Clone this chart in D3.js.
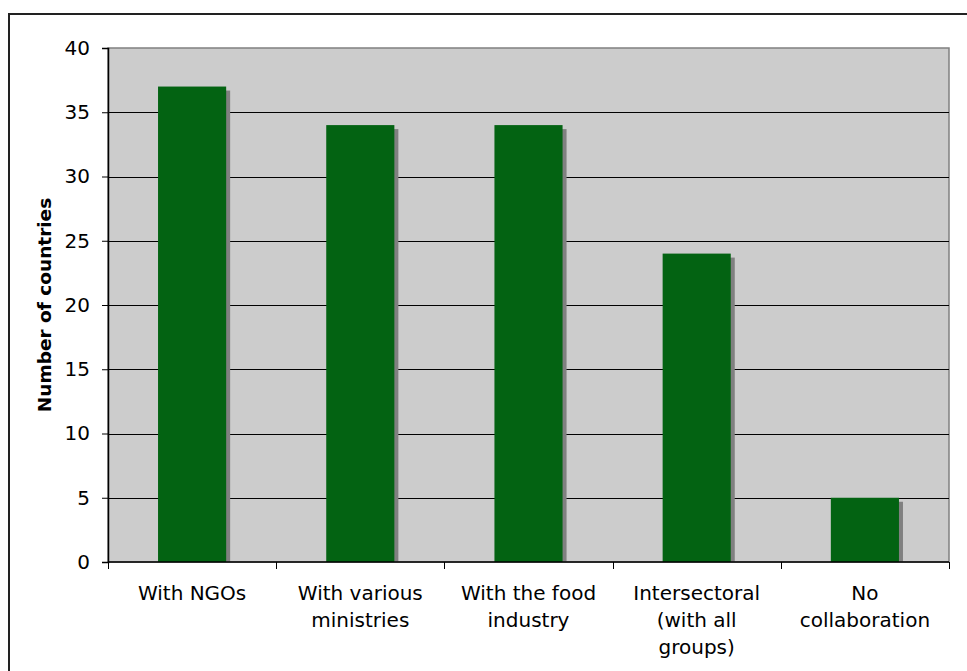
<!DOCTYPE html>
<html>
<head>
<meta charset="utf-8">
<script src="https://cdn.jsdelivr.net/npm/d3@7"></script>
<style>
body { margin: 0; background: #fff; }
svg { display: block; font-family: "DejaVu Sans", Verdana, sans-serif; }
</style>
</head>
<body>
<script>
// values
const categories = [
	["With NGOs"],
	["With various", "ministries"],
	["With the food", "industry"],
	["Intersectoral", "(with all", "groups)"],
	["No", "collaboration"]
];
const counts = [37, 34, 34, 24, 5];
const yTicks = [0, 5, 10, 15, 20, 25, 30, 35, 40];

const width = 967,
	height = 671;

const plot = {left: 108, top: 48, right: 949, bottom: 562};

let svg = d3.select("body")
	.append("svg")
	.attr("width", width)
	.attr("height", height);

// outer frame, runs off the right and bottom edge
svg.append("rect")
	.attr("x", 9)
	.attr("y", 14)
	.attr("width", 1000)
	.attr("height", 700)
	.attr("fill", "none")
	.attr("stroke", "#222")
	.attr("stroke-width", 2);

let x = d3.scaleBand()
	.domain(d3.range(categories.length))
	.range([plot.left, plot.right])
	.paddingInner(0.595)
	.paddingOuter(0.2975);

let y = d3.scaleLinear()
	.domain([0, 40])
	.range([plot.bottom, plot.top]);

// plot area
svg.append("rect")
	.attr("x", plot.left)
	.attr("y", plot.top)
	.attr("width", plot.right - plot.left)
	.attr("height", plot.bottom - plot.top)
	.attr("fill", "#cccccc")
	.attr("stroke", "#808080")
	.attr("stroke-width", 1.5);

// gridlines
svg.append("g")
	.selectAll("line")
	.data(yTicks.filter(d => d > 0 && d < 40))
	.join("line")
	.attr("x1", plot.left)
	.attr("x2", plot.right)
	.attr("y1", d => Math.round(y(d)) + 0.5)
	.attr("y2", d => Math.round(y(d)) + 0.5)
	.attr("stroke", "#000")
	.attr("stroke-width", 1);

// bar shadows
svg.append("g")
	.selectAll("rect")
	.data(counts)
	.join("rect")
	.attr("x", (d, i) => x(i) + 4)
	.attr("y", d => y(d) + 4)
	.attr("width", x.bandwidth())
	.attr("height", d => plot.bottom - y(d) - 4)
	.attr("fill", "#808080");

// bars
svg.append("g")
	.selectAll("rect")
	.data(counts)
	.join("rect")
	.attr("x", (d, i) => x(i))
	.attr("y", d => y(d))
	.attr("width", x.bandwidth())
	.attr("height", d => plot.bottom - y(d))
	.attr("fill", "#036312");

// y axis
let yAxis = svg.append("g")
	.attr("transform", `translate(${plot.left},0)`)
	.call(d3.axisLeft(y).tickValues(yTicks).tickSize(6).tickPadding(12));
yAxis.select(".domain").attr("stroke", "#000").attr("stroke-width", 1.5);
yAxis.selectAll(".tick line").attr("stroke", "#000");
yAxis.selectAll("text")
	.attr("font-size", 20)
	.attr("font-family", "DejaVu Sans")
	.attr("fill", "#000");

// x axis: ticks on the category boundaries
let step = x.step();
let xBounds = d3.range(categories.length + 1).map(i => plot.left + i*step);
svg.append("line")
	.attr("x1", plot.left)
	.attr("x2", plot.right)
	.attr("y1", plot.bottom)
	.attr("y2", plot.bottom)
	.attr("stroke", "#000")
	.attr("stroke-width", 1.5);
svg.append("g")
	.selectAll("line")
	.data(xBounds)
	.join("line")
	.attr("x1", d => Math.round(d) + 0.5)
	.attr("x2", d => Math.round(d) + 0.5)
	.attr("y1", plot.bottom)
	.attr("y2", plot.bottom + 7)
	.attr("stroke", "#000");

// category labels
let labels = svg.append("g")
	.selectAll("text")
	.data(categories)
	.join("text")
	.attr("x", (d, i) => x(i) + x.bandwidth()/2)
	.attr("y", 600)
	.attr("text-anchor", "middle")
	.attr("font-size", 20)
	.attr("fill", "#000");
labels.selectAll("tspan")
	.data(d => d)
	.join("tspan")
	.attr("x", function() { return this.parentNode.getAttribute("x"); })
	.attr("dy", (d, i) => i == 0 ? 0 : 27)
	.text(d => d);

// axis title
svg.append("text")
	.attr("transform", `translate(51,${(plot.top + plot.bottom)/2}) rotate(-90)`)
	.attr("text-anchor", "middle")
	.attr("font-size", 18.5)
	.attr("font-weight", "bold")
	.attr("fill", "#000")
	.text("Number of countries");
</script>
</body>
</html>
